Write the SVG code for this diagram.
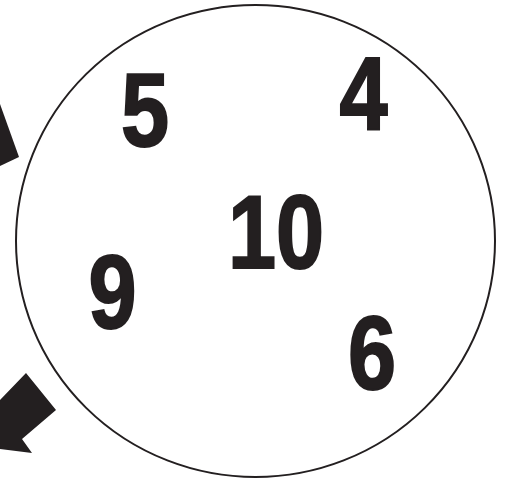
<svg xmlns="http://www.w3.org/2000/svg" width="505" height="481" viewBox="0 0 505 481">
<style>
.num{font-family:"Liberation Sans","Arial",sans-serif;font-weight:bold;font-size:103px;fill:#231f20;stroke:#231f20;stroke-width:2;stroke-linejoin:miter;text-anchor:middle}
.arrow{fill:#231f20}
</style>
<rect width="505" height="481" fill="#ffffff"/>
<g id="circle">
<ellipse cx="255.5" cy="241" rx="239.5" ry="236" fill="none" stroke="#231f20" stroke-width="2"/>
</g>
<g id="connectors">
<polygon class="arrow" points="0,104 19,157 0,166"/>
<polygon class="arrow" points="0,400 26,373 56,410 22,439 32,453 0,449"/>
</g>
<g id="n5"><text class="num" transform="translate(145,146) scale(0.84,1)">5</text></g>
<g id="n4"><text class="num" transform="translate(363.5,129.5) scale(0.84,1)">4</text></g>
<g id="n10"><text class="num" transform="translate(276,267.5) scale(0.84,1)">10</text></g>
<g id="n9"><text class="num" transform="translate(112.5,327.5) scale(0.84,1)">9</text></g>
<g id="n6"><text class="num" transform="translate(372,388.5) scale(0.84,1)">6</text></g>
</svg>
